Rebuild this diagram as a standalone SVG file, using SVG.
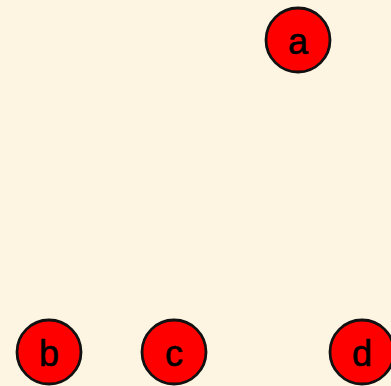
<svg xmlns="http://www.w3.org/2000/svg" width="391" height="386" viewBox="0 0 391 386">
<style>
.n circle{fill:#ff0000;stroke:#111;stroke-width:2.8}
.n text{font-family:"Liberation Sans",Arial,sans-serif;font-size:36px;fill:#000;text-anchor:middle;stroke:#000;stroke-width:0.6}
</style>
<rect width="391" height="386" fill="#fdf5e1"/>
<g id="connectors"></g>
<g id="a" class="n"><circle cx="298" cy="40" r="32"/><text x="298" y="54">a</text></g>
<g id="b" class="n"><circle cx="49" cy="352" r="32"/><text x="49" y="366">b</text></g>
<g id="c" class="n"><circle cx="174" cy="352" r="32"/><text x="174" y="366">c</text></g>
<g id="d" class="n"><circle cx="362" cy="352" r="32"/><text x="362" y="366">d</text></g>
</svg>
